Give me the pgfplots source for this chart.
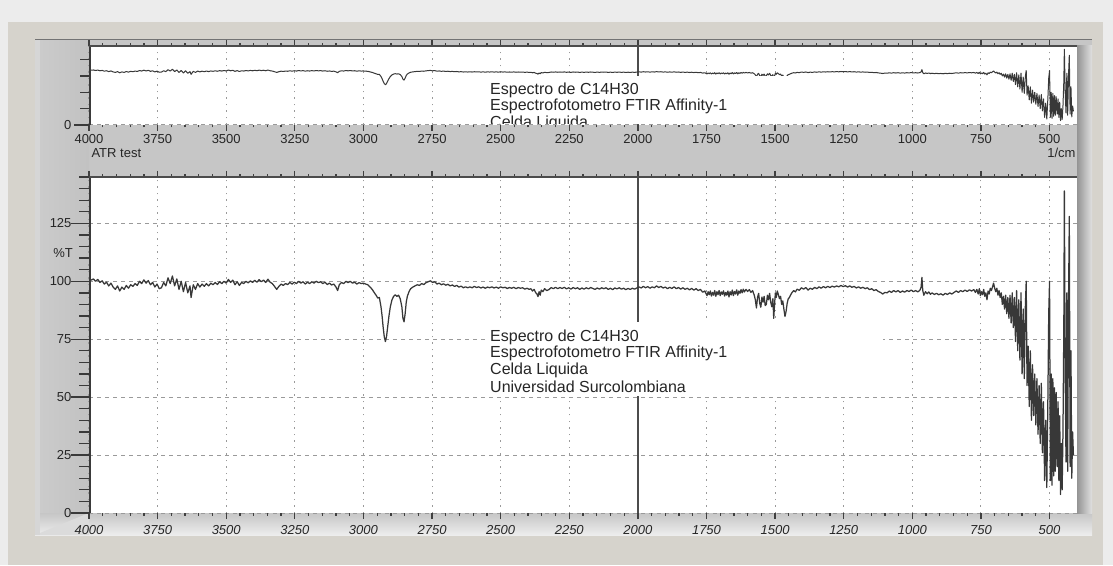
\documentclass[border=0pt]{standalone}
\usepackage{fontspec}
\setmainfont{Liberation Sans}
\usepackage{pgfplots}
\usepackage{pgfplotstable}
\pgfplotsset{compat=1.18}
\definecolor{outerbg}{HTML}{ECECEC}
\definecolor{winbg}{HTML}{D6D3CC}
\definecolor{framegray}{HTML}{C6C6C6}
\definecolor{gridgray}{HTML}{9A9A9A}
\definecolor{specgray}{HTML}{383838}
\definecolor{axisdark}{HTML}{3A3A3A}

\pgfplotstableread{
v T
4000 101
3992 100.5
3984 101
3976 100
3968 100.8
3960 99.5
3952 100.2
3944 98.8
3936 99.6
3928 98
3920 99.2
3912 97.5
3904 96.5
3896 98
3888 95.8
3880 97.5
3872 96.5
3864 98.2
3856 97
3848 98.5
3840 97.8
3832 99
3824 98.2
3816 100
3808 99
3800 100.6
3792 99.2
3784 100.3
3776 98.5
3768 99.5
3760 97.5
3752 98.8
3744 96.8
3736 97.2
3728 99.5
3720 98
3712 101.5
3704 99
3696 102.3
3688 98
3680 101
3672 96.5
3664 100
3656 95.5
3648 99.5
3640 95
3632 98
3628 93
3620 98.5
3612 96.5
3604 99
3596 97.5
3588 98.8
3580 97.8
3572 99
3564 98
3556 99.2
3548 98.5
3540 99.5
3532 98.6
3524 99.8
3516 99
3508 100
3500 99.2
3492 100.8
3484 99.5
3476 100.5
3468 98.5
3460 99.8
3452 98.2
3444 99.5
3436 99
3428 100
3420 99.3
3412 100.2
3404 99.5
3396 100.4
3388 99.6
3380 100.7
3372 99.8
3364 100.5
3356 99.5
3348 100.9
3340 99.6
3332 99
3324 97.8
3316 96.5
3308 97.8
3300 98.8
3292 98.2
3284 99
3276 98.6
3268 99.5
3260 98.8
3252 99.6
3244 99
3236 100
3228 99.2
3220 99.8
3212 98.8
3204 99.6
3196 99
3188 99.8
3180 99.2
3172 100
3164 99.4
3156 99.8
3148 99
3140 99.6
3132 98.6
3124 99.2
3116 98.4
3108 98.8
3100 97.5
3094 96
3088 98.5
3080 99.5
3072 99
3064 100
3056 99.4
3048 100
3040 99.2
3032 99.6
3024 98.8
3016 99.4
3008 99
3000 99.2
2992 98.8
2984 98.5
2976 97.5
2968 96.5
2960 95
2954 94
2948 92.8
2942 93
2936 89
2932 85
2928 80
2924 76
2920 74
2916 76
2912 80
2907 85
2902 89
2896 92
2890 93.5
2884 94.2
2878 93.5
2872 94
2866 92.5
2860 89
2856 84
2852 82.5
2848 86
2844 91
2840 93.5
2834 95.5
2828 96.8
2820 97.5
2812 98
2804 98.5
2796 98.2
2788 99
2780 98.6
2772 99.4
2764 99.8
2756 100.2
2748 99.5
2740 99.8
2732 98.8
2724 99.2
2716 98.5
2708 98.9
2700 98.3
2692 98.7
2684 98
2676 98.4
2668 97.8
2660 98.2
2652 97.5
2644 97.9
2636 97.2
2628 97.6
2620 97.2
2612 97.6
2604 97.2
2596 97.8
2588 97.3
2580 97.6
2572 97.1
2564 97.5
2556 97
2548 97.5
2540 97.2
2532 97.6
2524 97.1
2516 97.5
2508 97
2500 97.6
2492 97.2
2484 97.4
2476 96.9
2468 97.3
2460 97
2452 97.4
2444 96.8
2436 97.3
2428 97
2420 97.2
2412 96.6
2404 97
2396 96.5
2390 96.8
2384 95.8
2378 96.5
2372 95
2368 94.6
2364 93.4
2360 95.5
2356 94
2352 96.2
2346 95.5
2340 96.8
2332 96
2324 96.4
2316 97.3
2308 96.8
2300 97.4
2292 96.8
2284 97.3
2276 96.9
2268 97.4
2260 96.7
2252 97.2
2244 96.6
2236 97.3
2228 96.8
2220 97.2
2212 96.5
2204 97.1
2196 96.6
2188 97.2
2180 96.7
2172 97.3
2164 96.9
2156 96.5
2148 97.1
2140 96.6
2132 97.2
2124 96.8
2116 97.2
2108 96.5
2100 97
2092 96.4
2084 97.1
2076 96.7
2068 97.2
2060 96.6
2052 97
2044 96.4
2036 96.9
2028 96.5
2020 97
2012 96.6
2004 97.1
1996 97.6
1988 97.1
1980 97.8
1972 97.2
1964 97.7
1956 97
1948 97.6
1940 97.2
1932 98
1924 97.3
1916 97.8
1908 97.1
1900 97.5
1892 96.8
1884 97.4
1876 96.9
1868 97.6
1860 96.8
1852 97.3
1844 96.6
1836 97.2
1828 96.5
1820 97
1812 96.3
1804 96.9
1796 96.2
1788 96.8
1780 96
1772 96.5
1764 95.3
1756 95.8
1748 93.8
1744 95.5
1740 94.2
1736 95.8
1732 93.6
1728 95.2
1724 94
1720 96
1716 93.5
1712 95.5
1708 94.2
1704 96
1700 93.8
1696 95.4
1692 94.4
1688 95.9
1684 93.6
1680 95.2
1676 94
1672 95.8
1668 93.2
1664 95.5
1660 94.1
1656 96.2
1652 93.8
1648 95.6
1644 94.5
1640 96.3
1636 94
1632 95.8
1628 94.8
1624 96.4
1620 95
1616 96.6
1612 95.4
1606 96.5
1600 95.6
1594 96.4
1588 95.2
1582 96
1576 94
1572 92
1568 88.5
1564 93
1560 94.8
1556 90.5
1552 88.8
1548 93.2
1544 91
1540 93.5
1536 89.5
1532 90
1528 94
1524 92
1520 94.8
1516 91
1512 89
1508 92.5
1505 84
1502 90
1499 95
1496 93
1492 95.8
1488 94.2
1484 92.5
1480 93.5
1476 90
1472 91.5
1468 88
1464 84.8
1460 87
1456 90.5
1452 92.5
1448 93
1444 94
1438 95.2
1432 96
1426 95.4
1420 96.6
1412 96.1
1404 97.2
1396 96.6
1388 97.3
1380 96.2
1372 97
1364 96.5
1356 97.4
1348 96.8
1340 97.6
1332 97
1324 97.7
1316 97.2
1308 97.8
1300 97.3
1292 97.9
1284 97.5
1276 98
1268 97.6
1260 98.2
1252 97.7
1244 98.1
1236 97.5
1228 98
1220 97.4
1212 97.8
1204 97.1
1196 97.6
1188 97
1180 97.4
1172 96.8
1164 97.2
1156 96.4
1148 96.8
1140 96
1132 96.4
1124 95.6
1116 95.2
1108 94.5
1100 95.2
1092 95
1084 95.8
1076 95.2
1068 96
1060 95.4
1052 96
1044 95.2
1036 95.8
1028 95.3
1020 96
1012 95.6
1004 96.2
996 95.5
988 96
980 95.4
972 96.2
968 97.5
965 101.7
962 96
958 94
952 95.5
946 94.6
940 95.4
934 94.4
928 95
920 94.3
912 94.8
904 94.2
896 94.6
888 94
880 94.8
872 94.3
864 95
856 94.5
848 95.2
840 95.8
832 95.2
824 96
816 95.5
808 96.2
800 95.6
792 96.3
784 95.8
776 96.4
770 95.2
765 96.5
760 94.5
756 96.8
752 93.8
748 95.5
744 94.2
740 96.5
736 93.5
732 95
728 92
724 95.8
720 94.5
716 97
712 96
708 97.5
704 99.2
700 97
696 95.5
692 97
688 94
684 96
680 93
676 95
672 90
668 93.5
664 88
660 94
656 86
652 93
648 84
644 94
640 82
636 95
632 80
628 93
624 74
620 96
616 70
612 92
608 66
604 95
600 60
596 88
592 58
588 90
585 100
582 55
578 72
574 46
570 70
566 40
562 64
558 42
554 60
550 38
546 58
542 34
538 55
534 30
530 56
526 26
522 48
518 14
514 40
510 11
506 50
503 86
500 100
497 14
494 60
491 12
488 58
485 16
482 54
479 18
476 52
472 20
469 48
466 14
463 42
460 8
457 30
454 10
451 36
448 80
446 139
443 60
440 22
437 95
434 18
431 90
428 128
425 20
422 70
419 15
416 35
413 25
}\spec

\pgfplotsset{
  specaxis/.style={
    scale only axis, width=988pt,
    xmin=400, xmax=4000, x dir=reverse,
    ymin=0, ymax=145,
    axis line style={draw=none},
    xtick={500,750,...,4000},
    minor x tick num=4,
    tick align=outside,
    major tick length=6pt, minor tick length=2.5pt,
    xtick style={draw=black!75, line width=1.3pt},
    ytick style={draw=none},
    xmajorgrids, ymajorgrids,
    major x grid style={draw=gridgray, line width=1pt, dash pattern=on 1.5pt off 5pt},
    major y grid style={draw=gridgray, line width=1pt, dash pattern=on 4pt off 4pt},
    tick label style={font=\fontsize{13}{14}\selectfont, text=black!85},
    /pgf/number format/1000 sep={},
    /pgf/number format/assume math mode=true,
    axis background/.style={fill=white},
    clip mode=individual,
  }
}

\begin{document}
\begin{tikzpicture}[x=1pt,y=1pt]
\useasboundingbox (0,0) rectangle (1113,565);
% window background
\fill[outerbg] (0,0) rectangle (1113,565);
\fill[winbg] (8,0) rectangle (1103,543);
% frame
\fill[framegray] (35,30) rectangle (1092,525);
\shade[left color=white!80!black, right color=white!76!black] (35,30) rectangle (89,525);
\shade[top color=framegray, bottom color=white!93!black] (35,30) rectangle (1092,52);
\fill[white!86!black] (35,30) -- (89,52) -- (89,30) -- cycle;
\shade[left color=black!42, right color=white!88!black] (1077,52) rectangle (1092,519);
\fill[white!84!black] (35,30) rectangle (40,525);
\draw[black!55, line width=1pt] (35,525) -- (1092,525);

% bottom panel
\begin{axis}[specaxis, at={(89pt,52pt)}, anchor=south west, height=336pt,
  ytick={0,25,...,125},
  yticklabel style={xshift=-8pt},
  xticklabel style={yshift=-3pt, font=\fontsize{13}{14}\selectfont\itshape}]
\draw[black!70, line width=1.5pt] (axis cs:2000,0) -- (axis cs:2000,145);
\addplot[draw=specgray, line width=1.25pt, line join=round] table[x=v,y=T]{\spec};
\end{axis}

% top panel
\begin{axis}[specaxis, at={(89pt,440pt)}, anchor=south west, height=79pt,
  ytick={0},
  yticklabel style={xshift=-8pt}]
\draw[black!70, line width=1.5pt] (axis cs:2000,0) -- (axis cs:2000,145);
\addplot[draw=specgray, line width=1pt, line join=round] table[x=v,y=T]{\spec};
\end{axis}

% left axis lines and ticks
\draw[axisdark, line width=2.5pt] (90,52) -- (90,388);
\draw[axisdark, line width=2.5pt] (90,440) -- (90,519);
\foreach \t in {0,5,...,145} \draw[axisdark, line width=1.3pt] (79,{52+\t*2.31724}) -- (89,{52+\t*2.31724});
\foreach \t in {0,25,...,125} \draw[axisdark, line width=1.3pt] (71,{52+\t*2.31724}) -- (89,{52+\t*2.31724});
\foreach \t in {30,60,90,120} \draw[axisdark, line width=1.3pt] (80,{440+\t*0.544828}) -- (89,{440+\t*0.544828});
\draw[axisdark, line width=1.3pt] (74,440) -- (89,440);
% top borders of plots
\draw[black!70, line width=2pt] (89,388) -- (1077,388);
\draw[black!70, line width=2pt] (89,519) -- (1077,519);

% labels
\node[anchor=center, font=\fontsize{13}{14}\selectfont, text=black!85] at (63,312) {\%T};
\node[anchor=west, font=\fontsize{13}{14}\selectfont, text=black!85] at (88,412) {ATR test};
\node[anchor=east, font=\fontsize{13}{14}\selectfont, text=black!85] at (1079,412) {1/cm};

% annotation box bottom panel
\fill[white] (488,243) rectangle (883,169);
\begin{scope}[every node/.style={anchor=west, inner sep=0pt, font=\fontsize{16}{18}\selectfont, text=black!85}]
\node at (490,228) {Espectro de C14H30};
\node at (490,211.5) {Espectrofotometro FTIR Affinity-1};
\node at (490,195) {Celda Liquida};
\node at (490,178.5) {Universidad Surcolombiana};
\end{scope}
% annotation box top panel (clipped)
\begin{scope}
\clip (91,441) rectangle (1077,518);
\fill[white] (488,489) rectangle (883,440);
\begin{scope}[every node/.style={anchor=west, inner sep=0pt, font=\fontsize{16}{18}\selectfont, text=black!85}]
\node at (490,475) {Espectro de C14H30};
\node at (490,458.5) {Espectrofotometro FTIR Affinity-1};
\node at (490,442) {Celda Liquida};
\end{scope}
\end{scope}
\end{tikzpicture}
\end{document}
